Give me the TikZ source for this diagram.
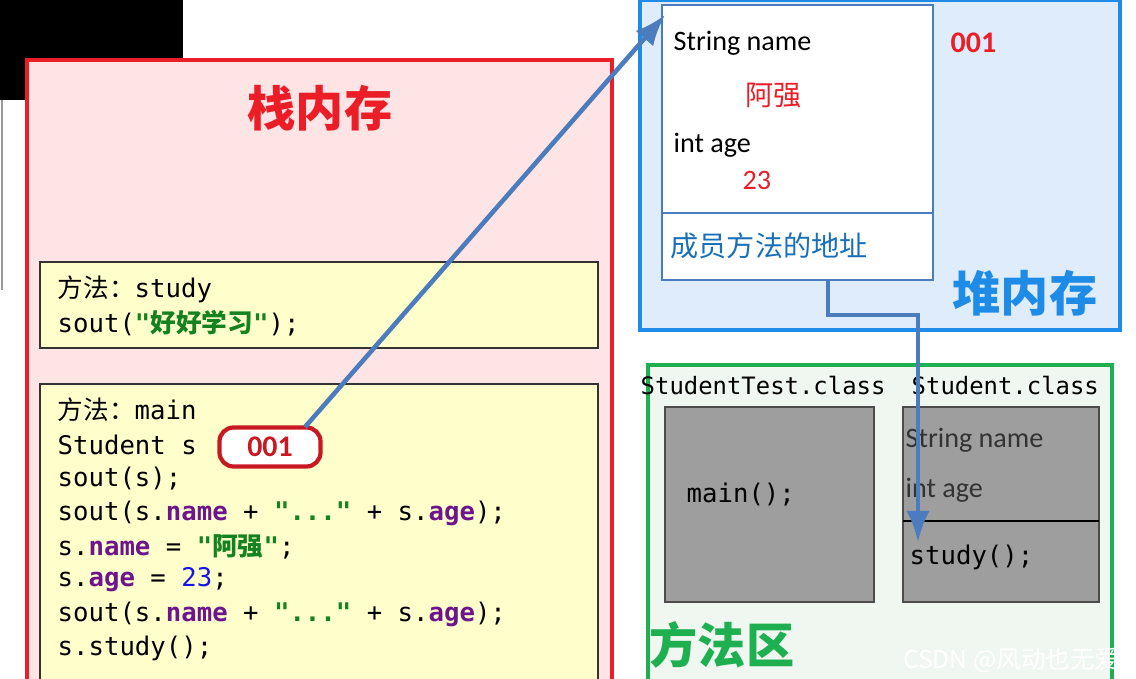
\documentclass[tikz,border=0pt]{standalone}
\usepackage{fontspec}
\setmainfont{Carlito}
\setmonofont{DejaVu Sans Mono}
\newfontfamily\cjk{Noto Sans CJK SC}
\usetikzlibrary{positioning,calc,arrows.meta}
\definecolor{stackred}{RGB}{235,30,40}
\definecolor{stackfill}{RGB}{255,228,230}
\definecolor{codefill}{RGB}{255,255,204}
\definecolor{heapblue}{RGB}{30,140,230}
\definecolor{heapfill}{RGB}{222,236,252}
\definecolor{linkblue}{RGB}{75,125,190}
\definecolor{methgreen}{RGB}{30,175,80}
\definecolor{methfill}{RGB}{240,246,240}
\definecolor{kwpurple}{RGB}{110,20,140}
\definecolor{strgreen}{RGB}{20,130,30}
\definecolor{numblue}{RGB}{20,20,230}
\newcommand{\cz}[1]{{\cjk #1}}
\newcommand{\kw}[1]{\textcolor{kwpurple}{\textbf{#1}}}
\newcommand{\st}[1]{\textcolor{strgreen}{\textbf{#1}}}

\begin{document}
\begin{tikzpicture}[x=0.01cm, y=-0.01cm, >=Latex,
  codeline/.style={anchor=west, inner sep=0pt, font=\ttfamily\fontsize{7.3}{8}\selectfont},
  classlabel/.style={anchor=west, inner sep=0pt, font=\ttfamily\fontsize{6.8}{8}\selectfont},
  heaptext/.style={anchor=west, inner sep=0pt, font=\fontsize{8}{9}\selectfont},
  bigtitle/.style={inner sep=0pt, font=\cjk\bfseries\fontsize{13.7}{15}\selectfont},
  graybox/.style={draw=black!70, fill=black!38}]
\useasboundingbox (0,0) rectangle (1136,679);
\fill[white] (0,0) rectangle (1136,679);

% screen leftovers
\fill[black] (0,0) rectangle (183,100);
\draw[black!40] (2,100) -- (2,290);

% stack
\draw[stackred, very thick, fill=stackfill] (27,679) -- (27,60) -- (612,60) -- (612,679);
\node[bigtitle, stackred] (STACKT) at (320,108) {栈内存};

\draw[black!80, fill=codefill] (40,262) rectangle (598,348);
\node[codeline] (S1) at (57,289) {\cz{方法：}study};
\node[codeline] (S2) at (57,323) {sout(\st{"\cz{好好学习}"});};

\draw[black!80, fill=codefill] (40,679) -- (40,384) -- (598,384) -- (598,679);
\node[codeline] (M1) at (57,410) {\cz{方法：}main};
\node[codeline] (M2) at (57,445) {Student s};
\node[codeline] (M3) at (57,479) {sout(s);};
\node[codeline] (M4) at (57,513) {sout(s.\kw{name} + \st{"..."} + s.\kw{age});};
\node[codeline] (M5) at (57,547) {s.\kw{name} = \st{"\cz{阿强}"};};
\node[codeline] (M6) at (57,580) {s.\kw{age} = \textcolor{numblue}{23};};
\node[codeline] (M7) at (57,614) {sout(s.\kw{name} + \st{"..."} + s.\kw{age});};
\node[codeline] (M8) at (57,648) {s.study();};
\node[draw=stackred!85!black, very thick, rounded corners=4pt, fill=white,
  minimum width=1.01cm, minimum height=0.39cm, inner sep=0pt,
  text=stackred!85!black, font=\bfseries\fontsize{8.5}{9}\selectfont] (REF) at (270,447) {001};

% heap
\draw[heapblue, very thick, fill=heapfill] (640,0) rectangle (1120,330);
\draw[linkblue, thick, fill=white] (662,5) rectangle (933,280);
\draw[linkblue, thick] (662,213) -- (933,213);
\node[heaptext] (NAME) at (673,43) {String name};
\node[heaptext, stackred] (NAMEV) at (745,95) {\cz{阿强}};
\node[heaptext] (AGE) at (673,145) {int age};
\node[heaptext, stackred] (AGEV) at (742,180) {23};
\node[heaptext, heapblue!80!black] (MADDR) at (670,246) {\cz{成员方法的地址}};
\node[heaptext, stackred, font=\bfseries\fontsize{8.5}{9}\selectfont] (ADDR) at (950,43) {001};
\node[bigtitle, heapblue] (HEAPT) at (1025,293) {堆内存};
\coordinate (OBJ) at (665,15);
\draw[->, linkblue, line width=1.3pt] (305,427) -- (OBJ);

% method area
\draw[methgreen, very thick, fill=methfill] (648,679) -- (648,365) -- (1112,365) -- (1112,679);
\node[classlabel] (CT) at (640,386) {StudentTest.class};
\node[classlabel] (CS) at (911,386) {Student.class};
\draw[graybox] (665,407) rectangle (874,602);
\node[codeline] (MAIN) at (686,495) {main();};
\draw[graybox] (903,407) rectangle (1099,602);
\draw[black, thick] (903,521) -- (1099,521);
\node[heaptext, black!80] (CNAME) at (905,440) {String name};
\node[heaptext, black!80] (CAGE) at (905,490) {int age};
\node[codeline] (STUDY) at (909,557) {study();};
\node[bigtitle, methgreen] (METHT) at (722,645) {方法区};
\coordinate (MTOP) at (828,280);
\coordinate (MDST) at (918,542);
\draw[->, linkblue, line width=1.3pt] (MTOP) |- (918,315) -- (MDST);

% watermark
\node[anchor=east, text=white, font=\cjk\fontsize{7}{8}\selectfont] (WM) at (1132,660) {CSDN @风动也无爱};
\end{tikzpicture}
\end{document}
